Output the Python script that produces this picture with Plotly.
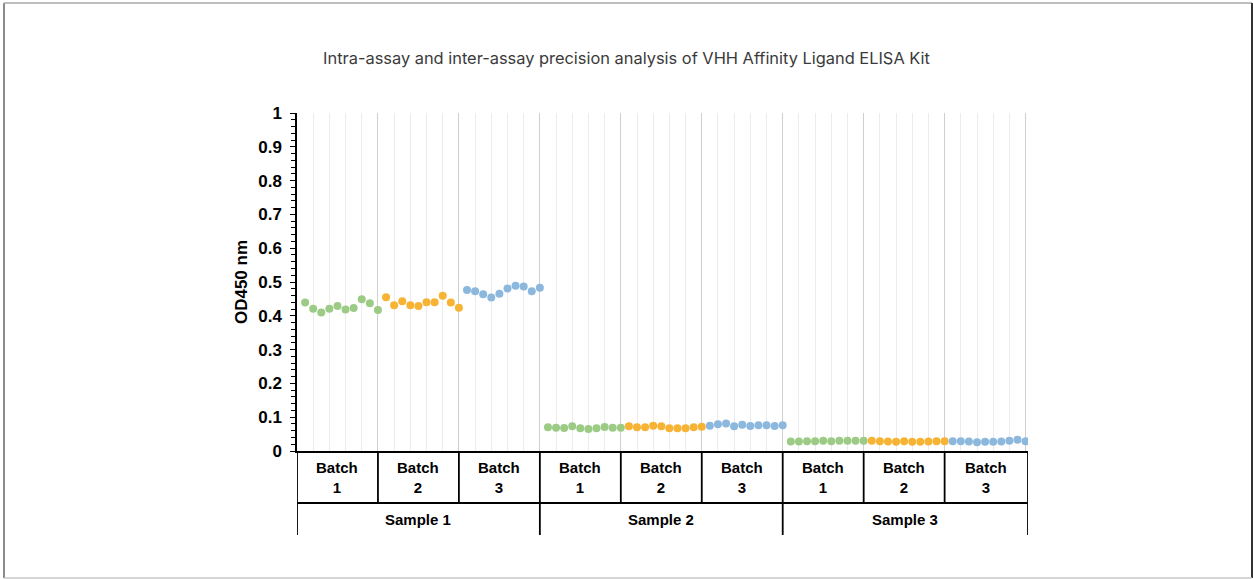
import plotly.graph_objects as go

# OD450 readings: 3 samples x 3 batches x 10 replicate wells
samples = ["Sample 1", "Sample 2", "Sample 3"]
batches = ["Batch 1", "Batch 2", "Batch 3"]
batch_colors = ["#9CCB86", "#F7B334", "#8DB8DE"]

s1_batch1 = [0.439, 0.421, 0.410, 0.421, 0.429, 0.419, 0.423, 0.449, 0.437, 0.417]
s1_batch2 = [0.455, 0.431, 0.443, 0.431, 0.429, 0.440, 0.440, 0.459, 0.439, 0.424]
s1_batch3 = [0.476, 0.473, 0.464, 0.454, 0.465, 0.481, 0.489, 0.487, 0.473, 0.483]
s2_batch1 = [0.070, 0.069, 0.068, 0.073, 0.067, 0.065, 0.067, 0.071, 0.069, 0.069]
s2_batch2 = [0.073, 0.070, 0.070, 0.075, 0.073, 0.067, 0.067, 0.067, 0.070, 0.072]
s2_batch3 = [0.075, 0.079, 0.081, 0.073, 0.078, 0.074, 0.076, 0.076, 0.074, 0.076]
s3_batch1 = [0.028, 0.028, 0.029, 0.029, 0.030, 0.029, 0.030, 0.030, 0.030, 0.030]
s3_batch2 = [0.030, 0.029, 0.028, 0.027, 0.029, 0.027, 0.027, 0.028, 0.029, 0.029]
s3_batch3 = [0.029, 0.029, 0.028, 0.026, 0.027, 0.027, 0.028, 0.030, 0.033, 0.029]

readings = [
    [s1_batch1, s1_batch2, s1_batch3],
    [s2_batch1, s2_batch2, s2_batch3],
    [s3_batch1, s3_batch2, s3_batch3],
]

y_ticks = [round(0.1 * i, 1) for i in range(11)]

n_rep = 10
n_batch = len(batches)
n_pos = len(samples) * n_batch * n_rep
x_max = n_pos + 0.3

fig = go.Figure()

for b, color in enumerate(batch_colors):
    xs, ys = [], []
    for s in range(len(samples)):
        vals = readings[s][b]
        for r, v in enumerate(vals):
            xs.append(s * n_batch * n_rep + b * n_rep + r + 1)
            ys.append(v)
    fig.add_trace(go.Scatter(
        x=xs, y=ys, mode="markers", name=batches[b],
        marker=dict(color=color, size=8, line=dict(width=0)),
        showlegend=False, hoverinfo="y",
    ))

FONT = "Liberation Sans"
shapes = []
annotations = []

# category table under the plot area (paper y below 0)
plot_h = 338.0
row1_bottom = -52 / plot_h
row2_bottom = -84 / plot_h
line_style = dict(color="black", width=1.8)

# horizontal divider between batch row and sample row
shapes.append(dict(type="line", xref="x", yref="paper", x0=0, x1=x_max,
                   y0=row1_bottom, y1=row1_bottom, line=line_style))
# batch-row verticals
for k in range(len(samples) * n_batch + 1):
    xv = k * n_rep if k < len(samples) * n_batch else x_max
    shapes.append(dict(type="line", xref="x", yref="paper", x0=xv, x1=xv,
                       y0=0, y1=row1_bottom, line=line_style))
# sample-row verticals
for k in range(len(samples) + 1):
    xv = k * n_batch * n_rep if k < len(samples) else x_max
    shapes.append(dict(type="line", xref="x", yref="paper", x0=xv, x1=xv,
                       y0=row1_bottom, y1=row2_bottom, line=line_style))

for s, sname in enumerate(samples):
    for b, bname in enumerate(batches):
        left = s * n_batch * n_rep + b * n_rep
        right = left + n_rep if (s, b) != (len(samples) - 1, n_batch - 1) else x_max
        word, num = bname.split(" ")
        annotations.append(dict(
            x=(left + right) / 2, y=row1_bottom / 2, xref="x", yref="paper",
            xanchor="center", yanchor="middle",
            text=f"<b>{word}<br>{num}</b>", showarrow=False,
            font=dict(family=FONT, size=15, color="black"), align="center",
        ))
    left = s * n_batch * n_rep
    right = left + n_batch * n_rep if s < len(samples) - 1 else x_max
    annotations.append(dict(
        x=(left + right) / 2, y=(row1_bottom + row2_bottom) / 2, xref="x", yref="paper",
        xanchor="center", yanchor="middle",
        text=f"<b>{sname}</b>", showarrow=False,
        font=dict(family=FONT, size=15, color="black"),
    ))

# outer frame of the figure
plot_w = 731.0
def px_x(p):
    return (p - 297) / plot_w
def px_y(p):
    return (451 - p) / plot_h

frame = [
    (4, 3, 4, 578, "#8a8a8a", 2),
    (4, 3, 1252, 3, "#a8a8a8", 1.5),
    (1252, 3, 1252, 578, "#333333", 2),
    (4, 578, 1252, 578, "#c8c8c8", 1.5),
]
for x0, y0, x1, y1, c, w in frame:
    shapes.append(dict(type="line", xref="paper", yref="paper",
                       x0=px_x(x0), x1=px_x(x1), y0=px_y(y0), y1=px_y(y1),
                       line=dict(color=c, width=w)))

fig.update_layout(
    width=1253, height=579,
    margin=dict(l=297, r=225, t=113, b=128),
    paper_bgcolor="white", plot_bgcolor="white",
    title=dict(
        text="Intra-assay and inter-assay precision analysis of VHH Affinity Ligand ELISA Kit",
        x=0.5, xref="container", xanchor="center", y=1 - 58 / 579, yref="container", yanchor="middle",
        font=dict(family="Inter", size=16.4, color="#3a3a3a"),
    ),
    xaxis=dict(
        range=[0, x_max], showticklabels=False, ticks="",
        showgrid=True, gridcolor="#cfcfcf", gridwidth=1, dtick=10, tick0=0,
        minor=dict(dtick=2, tick0=0, showgrid=True, gridcolor="#ececec", gridwidth=1),
        showline=True, linecolor="black", linewidth=1.5,
        zeroline=False, fixedrange=True,
    ),
    yaxis=dict(
        range=[0, 1], tickvals=y_ticks, ticktext=[f"<b>{v:g}</b>" for v in y_ticks],
        ticks="outside", ticklen=5, tickcolor="black", tickwidth=1,
        ticklabelstandoff=5,
        minor=dict(dtick=0.02, tick0=0, ticks="outside", ticklen=4, tickcolor="black", showgrid=False),
        showline=True, linecolor="black", linewidth=1.5,
        showgrid=False, zeroline=False,
        tickfont=dict(family=FONT, size=17, color="black"),
        title=dict(text="<b>OD450 nm</b>", font=dict(family=FONT, size=17, color="black"), standoff=6),
        fixedrange=True,
    ),
    shapes=shapes,
    annotations=annotations,
)

fig.write_html("out.html")
